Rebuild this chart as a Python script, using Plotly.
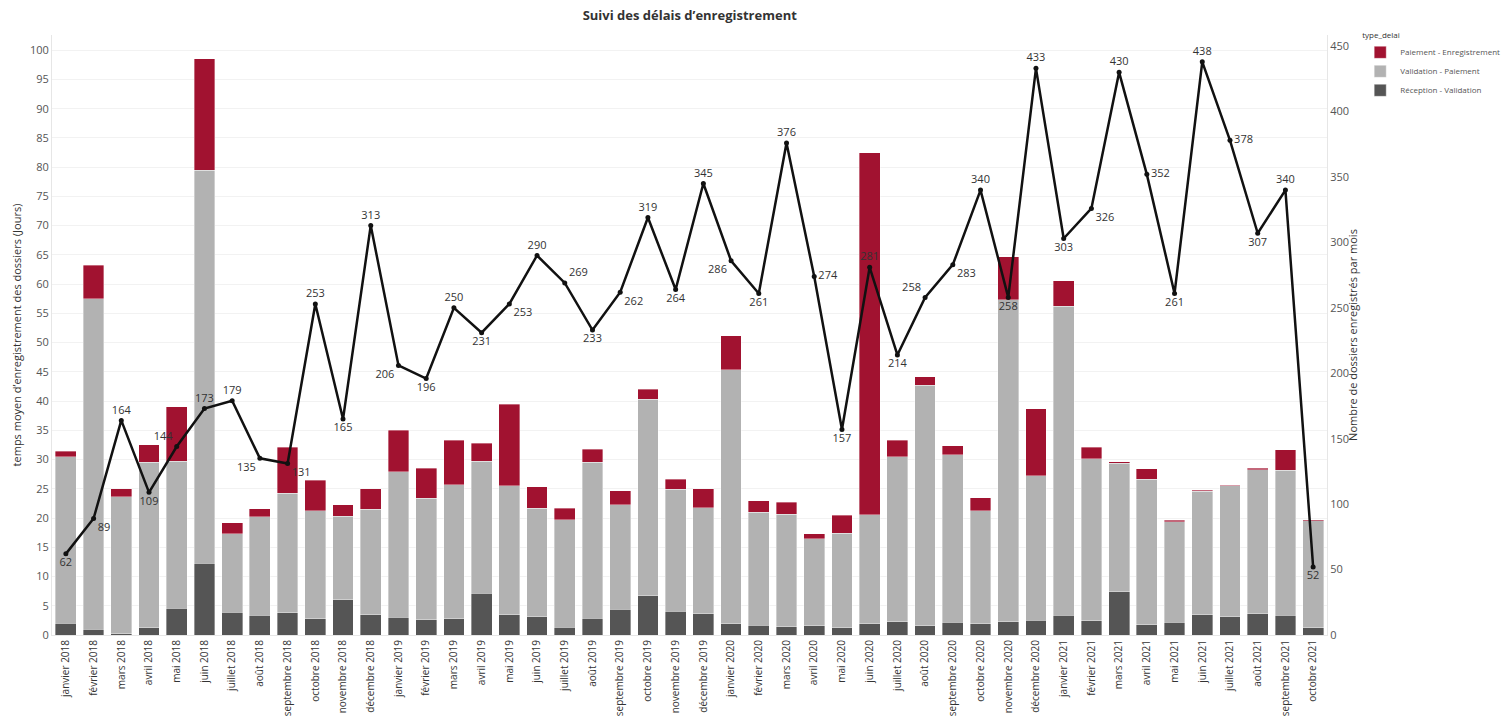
import plotly.graph_objects as go

months = [
    "janvier 2018", "février 2018", "mars 2018", "avril 2018", "mai 2018", "juin 2018",
    "juillet 2018", "août 2018", "septembre 2018", "octobre 2018", "novembre 2018", "décembre 2018",
    "janvier 2019", "février 2019", "mars 2019", "avril 2019", "mai 2019", "juin 2019",
    "juillet 2019", "août 2019", "septembre 2019", "octobre 2019", "novembre 2019", "décembre 2019",
    "janvier 2020", "février 2020", "mars 2020", "avril 2020", "mai 2020", "juin 2020",
    "juillet 2020", "août 2020", "septembre 2020", "octobre 2020", "novembre 2020", "décembre 2020",
    "janvier 2021", "février 2021", "mars 2021", "avril 2021", "mai 2021", "juin 2021",
    "juillet 2021", "août 2021", "septembre 2021", "octobre 2021",
]

reception_validation = [
    2.0, 1.0, 0.2, 1.2, 4.55, 12.3, 3.9, 3.4, 3.8, 2.8, 6.0, 3.5,
    3.0, 2.6, 2.8, 7.1, 3.5, 3.1, 1.3, 2.85, 4.4, 6.7, 4.05, 3.6,
    1.95, 1.7, 1.37, 1.54, 1.25, 1.95, 2.3, 1.6, 2.2, 1.95, 2.3, 2.55,
    3.4, 2.4, 7.4, 1.77, 2.2, 3.5, 3.1, 3.6, 3.4, 1.2,
]

validation_paiement = [
    28.5, 56.5, 23.4, 28.3, 25.2, 67.2, 13.4, 16.8, 20.4, 18.45, 14.3, 18.0,
    24.9, 20.8, 22.9, 22.6, 22.0, 18.55, 18.4, 26.65, 17.9, 33.6, 20.85, 18.2,
    43.4, 19.3, 19.3, 14.9, 16.15, 18.65, 28.2, 41.1, 28.6, 19.3, 55.0, 24.65,
    52.8, 27.7, 21.95, 24.9, 17.2, 21.05, 22.4, 24.7, 24.8, 18.3,
]

paiement_enregistrement = [
    0.95, 5.7, 1.4, 3.0, 9.3, 19.0, 1.9, 1.4, 7.9, 5.2, 2.0, 3.5,
    7.1, 5.1, 7.6, 3.1, 14.0, 3.7, 1.95, 2.3, 2.4, 1.75, 1.7, 3.2,
    5.8, 2.0, 2.0, 0.9, 3.1, 61.9, 2.8, 1.45, 1.6, 2.25, 7.4, 11.5,
    4.4, 2.0, 0.25, 1.8, 0.25, 0.2, 0.15, 0.2, 3.5, 0.2,
]

dossiers = [
    62, 89, 164, 109, 144, 173, 179, 135, 131, 253, 165, 313,
    206, 196, 250, 231, 253, 290, 269, 233, 262, 319, 264, 345,
    286, 261, 376, 274, 157, 281, 214, 258, 283, 340, 258, 433,
    303, 326, 430, 352, 261, 438, 378, 307, 340, 52,
]

label_pos = [
    "bottom center", "bottom right", "top center", "bottom center", "top left", "top center",
    "top center", "bottom left", "bottom right", "top center", "bottom center", "top center",
    "bottom left", "bottom center", "top center", "bottom center", "bottom right", "top center",
    "top right", "bottom center", "bottom right", "top center", "bottom center", "top center",
    "bottom left", "bottom center", "top center", "middle right", "bottom center", "top center",
    "bottom center", "top left", "bottom right", "top center", "bottom center", "top center",
    "bottom center", "bottom right", "top center", "middle right", "bottom center", "top center",
    "middle right", "bottom center", "top center", "bottom center",
]

FONT = "Open Sans"
RED = "#A11230"
GREY = "#B2B2B2"
DARK = "#555555"

fig = go.Figure()
edge = dict(color="rgba(255,255,255,0.6)", width=0.6)
fig.add_trace(go.Bar(x=months, y=reception_validation, name="Réception - Validation",
                     marker=dict(color=DARK, line=edge), legendrank=3))
fig.add_trace(go.Bar(x=months, y=validation_paiement, name="Validation - Paiement",
                     marker=dict(color=GREY, line=edge), legendrank=2))
fig.add_trace(go.Bar(x=months, y=paiement_enregistrement, name="Paiement - Enregistrement",
                     marker=dict(color=RED, line=edge), legendrank=1))
fig.add_trace(go.Scatter(
    x=months, y=dossiers, yaxis="y2", mode="lines+markers+text",
    line=dict(color="#111111", width=2.5), marker=dict(color="#111111", size=5),
    text=[str(v) for v in dossiers], textposition=label_pos,
    textfont=dict(family=FONT, size=11, color="#333333"),
    showlegend=False, cliponaxis=False, hoverinfo="x+y",
))

fig.update_layout(
    width=1508, height=721,
    margin=dict(l=52, r=181, t=35, b=86, autoexpand=False),
    paper_bgcolor="white", plot_bgcolor="white",
    barmode="stack", bargap=0.25,
    font=dict(family=FONT, size=11, color="#555555"),
    title=dict(text="<b>Suivi des délais d’enregistrement</b>", x=0.4574, xanchor="center",
               y=0.978, yanchor="middle", yref="container",
               font=dict(family=FONT, size=13, color="#333333")),
    xaxis=dict(type="category", range=[-0.5, len(months) - 0.5], autorange=False,
               tickangle=-90, tickfont=dict(size=10, color="#333333"),
               showgrid=False, showline=True, linecolor="#e6e6e6", ticks="", ticklen=0,
               automargin=False),
    yaxis=dict(range=[0, 102.6], tickmode="linear", tick0=0, dtick=5,
               showgrid=True, gridcolor="#f2f2f2", zeroline=False,
               showline=True, linecolor="#e6e6e6", ticks="", automargin=False,
               tickfont=dict(size=11, color="#555555"),
               title=dict(text="temps moyen d’enregistrement des dossiers (Jours)",
                          font=dict(size=11, color="#333333"), standoff=6)),
    yaxis2=dict(range=[0, 458.5], overlaying="y", side="right", tickmode="linear",
                tick0=0, dtick=50, showgrid=False, zeroline=False,
                showline=True, linecolor="#e6e6e6", ticks="", automargin=True,
                tickfont=dict(size=11, color="#555555"),
                title=dict(text="Nombre de dossiers enregistrés par mois",
                           font=dict(size=11, color="#333333"), standoff=16)),
    legend=dict(xref="container", yref="container", x=0.902, y=0.962,
                xanchor="left", yanchor="top",
                title=dict(text="type_delai", font=dict(size=8, color="#333333")),
                font=dict(size=8, color="#555555"), traceorder="normal",
                itemwidth=30, tracegroupgap=0),
)

fig.write_html("out.html", config={"displayModeBar": False},
               post_script="document.body.style.margin='0';document.body.style.overflow='hidden';")
